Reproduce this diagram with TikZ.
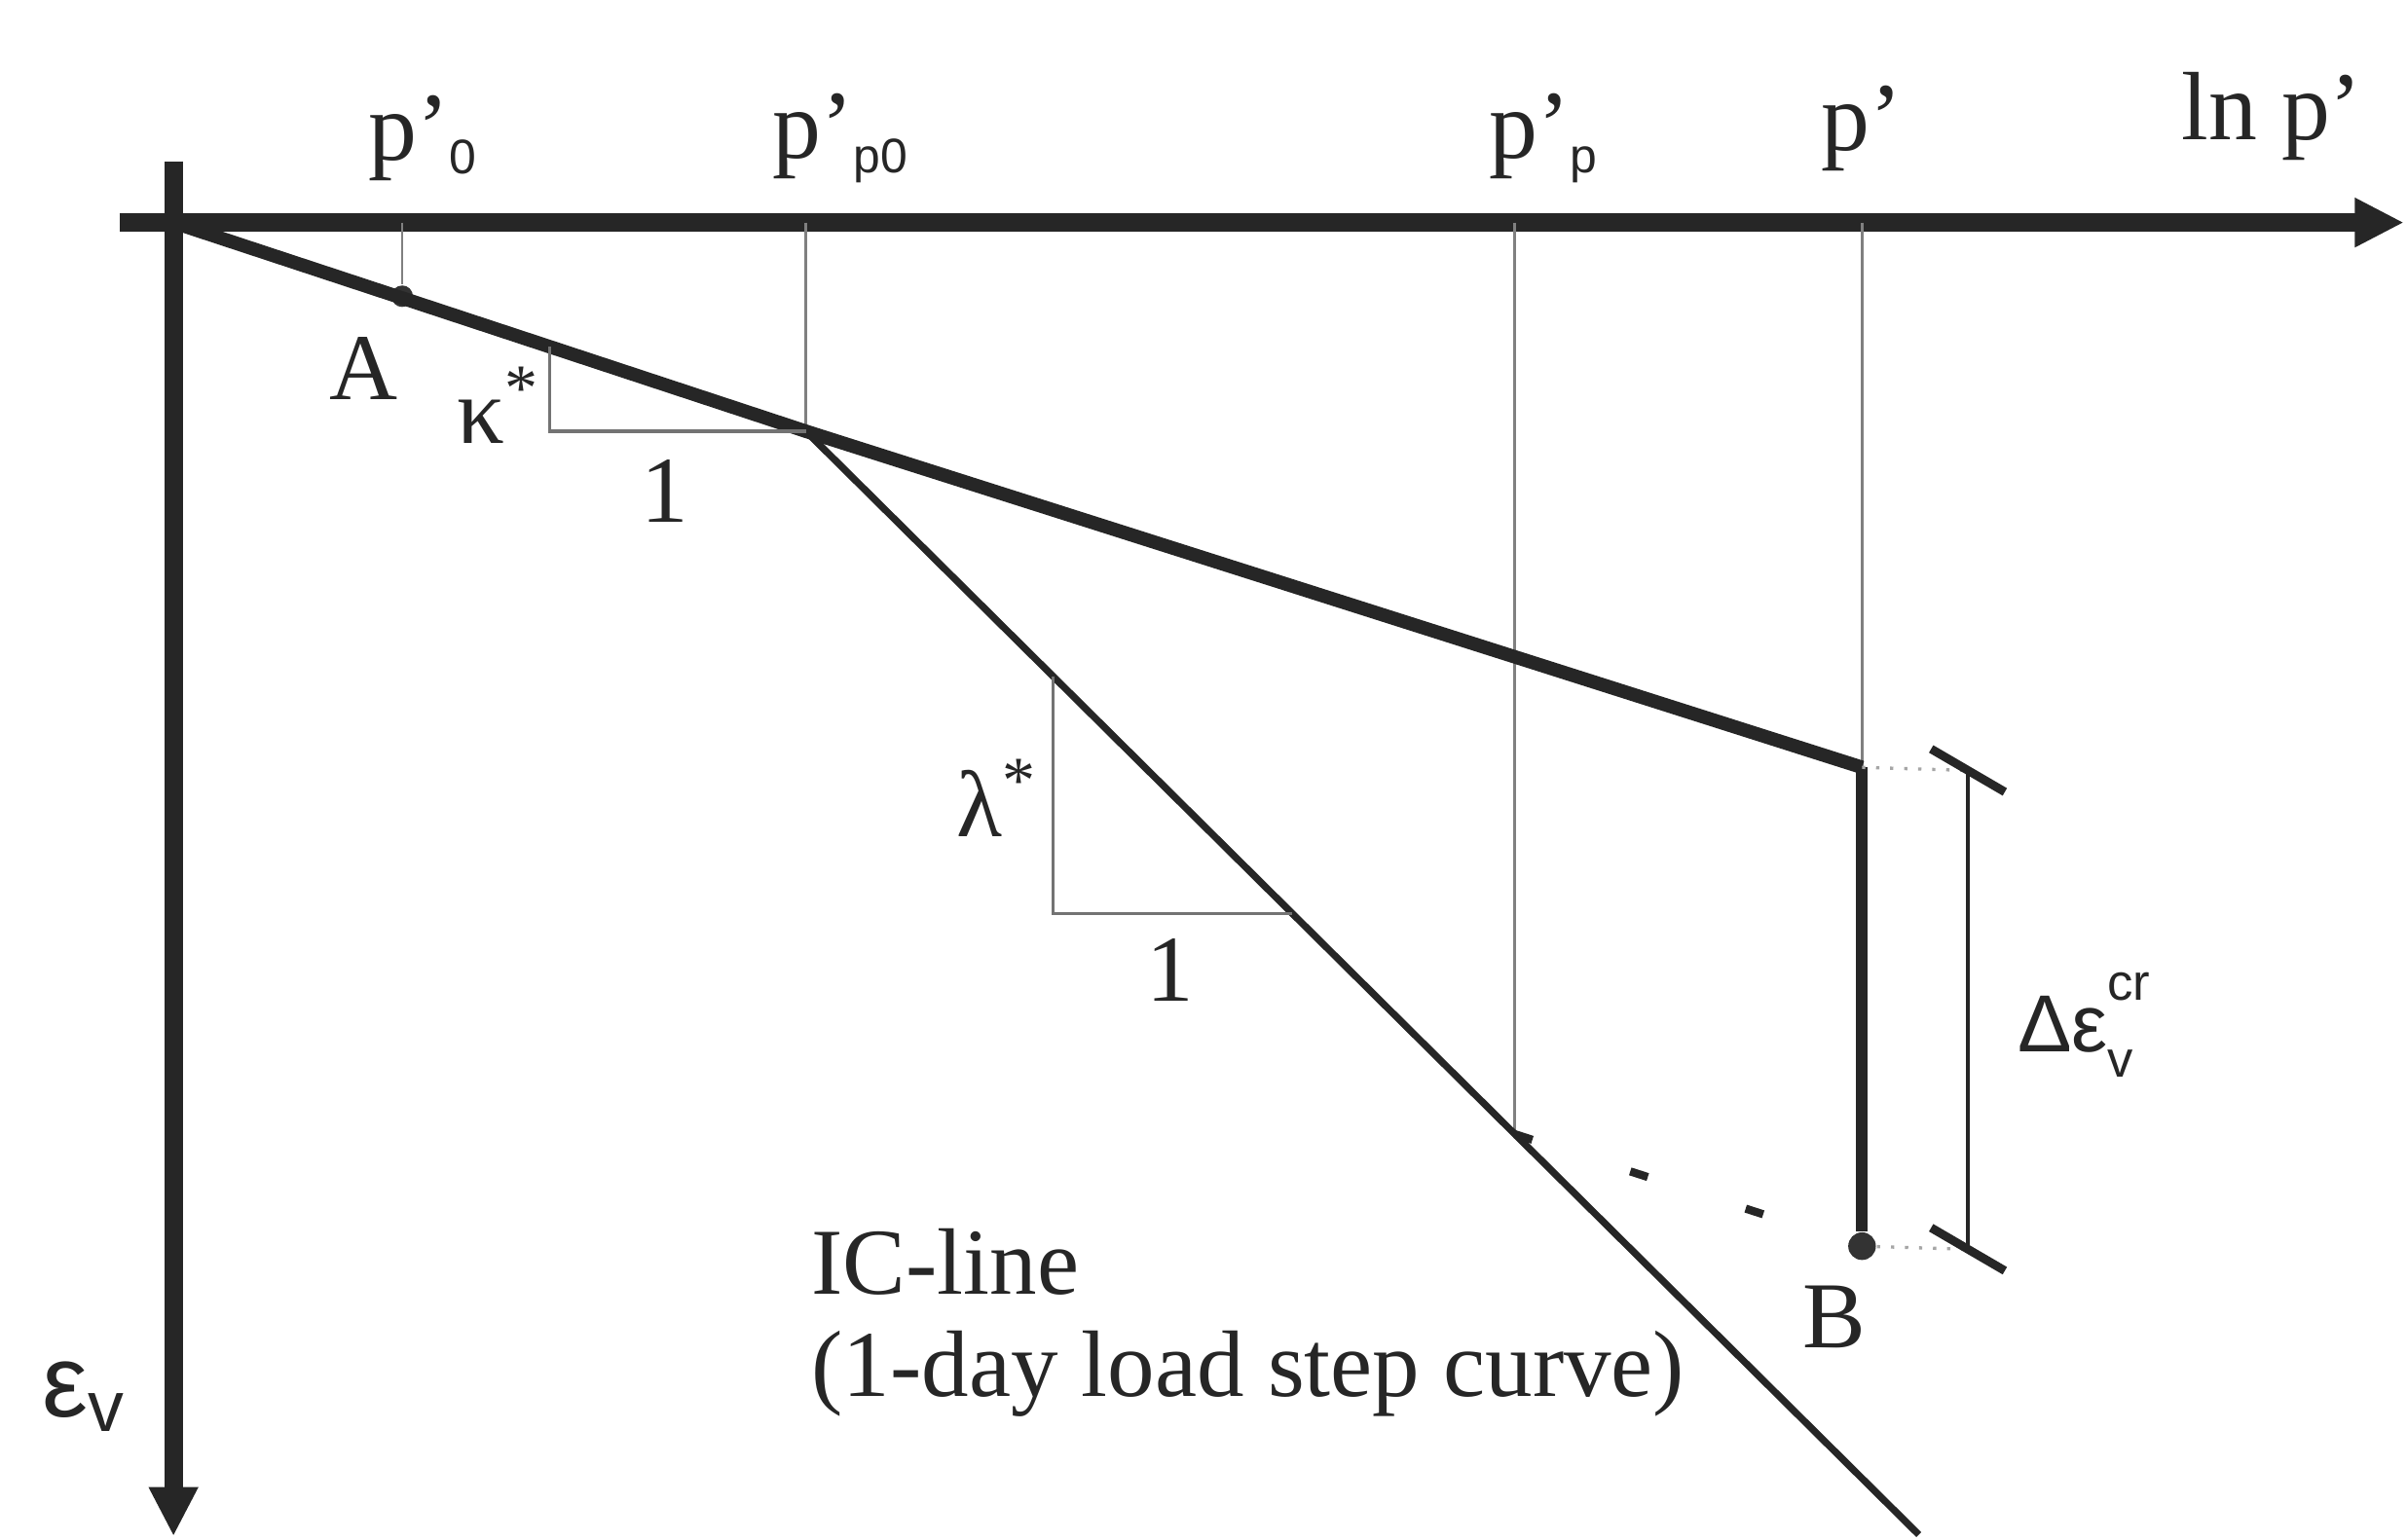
\documentclass[tikz,border=0pt]{standalone}
\usepackage{fontspec}
\setmainfont{Liberation Serif}
\setsansfont{Liberation Sans}
\usetikzlibrary{arrows.meta, calc, positioning}

\newcommand\subsf[1]{\textsubscript{\fontsize{9}{10}\sffamily\selectfont #1}}

\begin{document}
\begin{tikzpicture}[
        x=0.1mm, y=-0.1mm,
        lbl/.style={inner sep=0pt, text=black!85, font=\fontsize{17.5}{19}\selectfont},
        plab/.style={lbl, font=\fontsize{18}{20}\selectfont},
        axis/.style={line width=3.4pt, draw=black!85, -{Triangle[length=3.2mm, width=3mm]}},
        kline/.style={line width=2.5pt, draw=black!85},
        icline/.style={line width=1.3pt, draw=black!85},
        guide/.style={line width=0.5pt, draw=black!50},
        slope/.style={line width=0.6pt, draw=black!55},
        hint/.style={line width=0.6pt, draw=black!35, dotted},
        dot/.style={circle, fill=black!80, inner sep=0pt, minimum size=#1},
        dimtick/.style={line width=1.6pt, draw=black!85}
    ]
        \useasboundingbox (0,0) rectangle (1568,1003);

        % points of the two lines
        \coordinate (O) at (113,145);
        \coordinate (P0) at (525,281);
        \coordinate (K) at (1213,500);
        \coordinate (E) at (1250,1000);
        \coordinate (Q) at ($(P0)!0.637!(E)$);
        \coordinate (L1) at ($(P0)!0.222!(E)$);
        \coordinate (L2) at ($(P0)!0.437!(E)$);
        \coordinate (kt) at (358,226);

        % axes
        \draw[axis] (78,145) -- (1566,145);
        \draw[axis] (113,105) -- (113,1001);

        % guides from the axis
        \node[dot=1.4mm] (A) at (262,193) {};
        \draw[guide] (A |- O) -- (A);
        \draw[guide] (P0 |- O) -- (P0);
        \draw[guide] (Q |- O) -- (Q);
        \draw[guide] (K |- O) -- (K);

        % kappa line and IC line
        \draw[kline] (O) -- (P0) -- (K);
        \draw[icline] (P0) -- (E);

        % slope triangles
        \draw[slope] (kt) |- (P0);
        \draw[slope] (L1) |- (L2);

        % creep from K to B
        \node[dot=1.8mm] (B) at (1213,812) {};
        \draw[line width=2.2pt, draw=black!85] (K) -- (B);
        \draw[line width=1.5pt, draw=black!85, dash pattern=on 1.2mm off 6.7mm] (Q) -- (B);

        % dimension of the creep strain
        \coordinate (dTop) at (1282,502);
        \coordinate (dBot) at (1282,814);
        \draw[hint] (K) -- (dTop);
        \draw[hint] (B) -- (dBot);
        \draw[line width=0.7pt, draw=black!85] (dTop) -- (dBot);
        \draw[dimtick] ($(dTop)+(-24,-14)$) -- ($(dTop)+(24,14)$);
        \draw[dimtick] ($(dBot)+(-24,-14)$) -- ($(dBot)+(24,14)$);

        % labels
        \node[plab] (lp0) at (276,90) {p’\subsf{0}};
        \node[plab] (lpp0) at (548,90) {p’\subsf{p0}};
        \node[plab] (lpp) at (1006,90) {p’\subsf{p}};
        \node[plab] (lp) at (1213,84) {p’};
        \node[plab] (lln) at (1480,76) {ln p’};
        \node[lbl] (lA) at (237,240) {A};
        \node[lbl] (lB) at (1195,858) {B};
        \node[lbl] (lkap) at (325,264) {κ\textsuperscript{*}};
        \node[lbl] (lk1) at (433,320) {1};
        \node[lbl] (llam) at (650,520) {λ\textsuperscript{*}};
        \node[lbl] (ll1) at (762,632) {1};
        \node[lbl, font=\fontsize{15}{16}\sffamily\selectfont] (ldeps) at (1352,668)
            {Δε\rlap{\raisebox{1.2ex}{\fontsize{9.5}{10}\selectfont cr}}\raisebox{-0.6ex}{\fontsize{9.5}{10}\selectfont v}};
        \node[lbl, font=\fontsize{19}{20}\sffamily\selectfont] (lev) at (55,910) {ε\textsubscript{v}};
        \node[lbl, anchor=west, align=left] (lic) at (528,862) {IC-line\\(1-day load step curve)};
    \end{tikzpicture}
\end{document}
